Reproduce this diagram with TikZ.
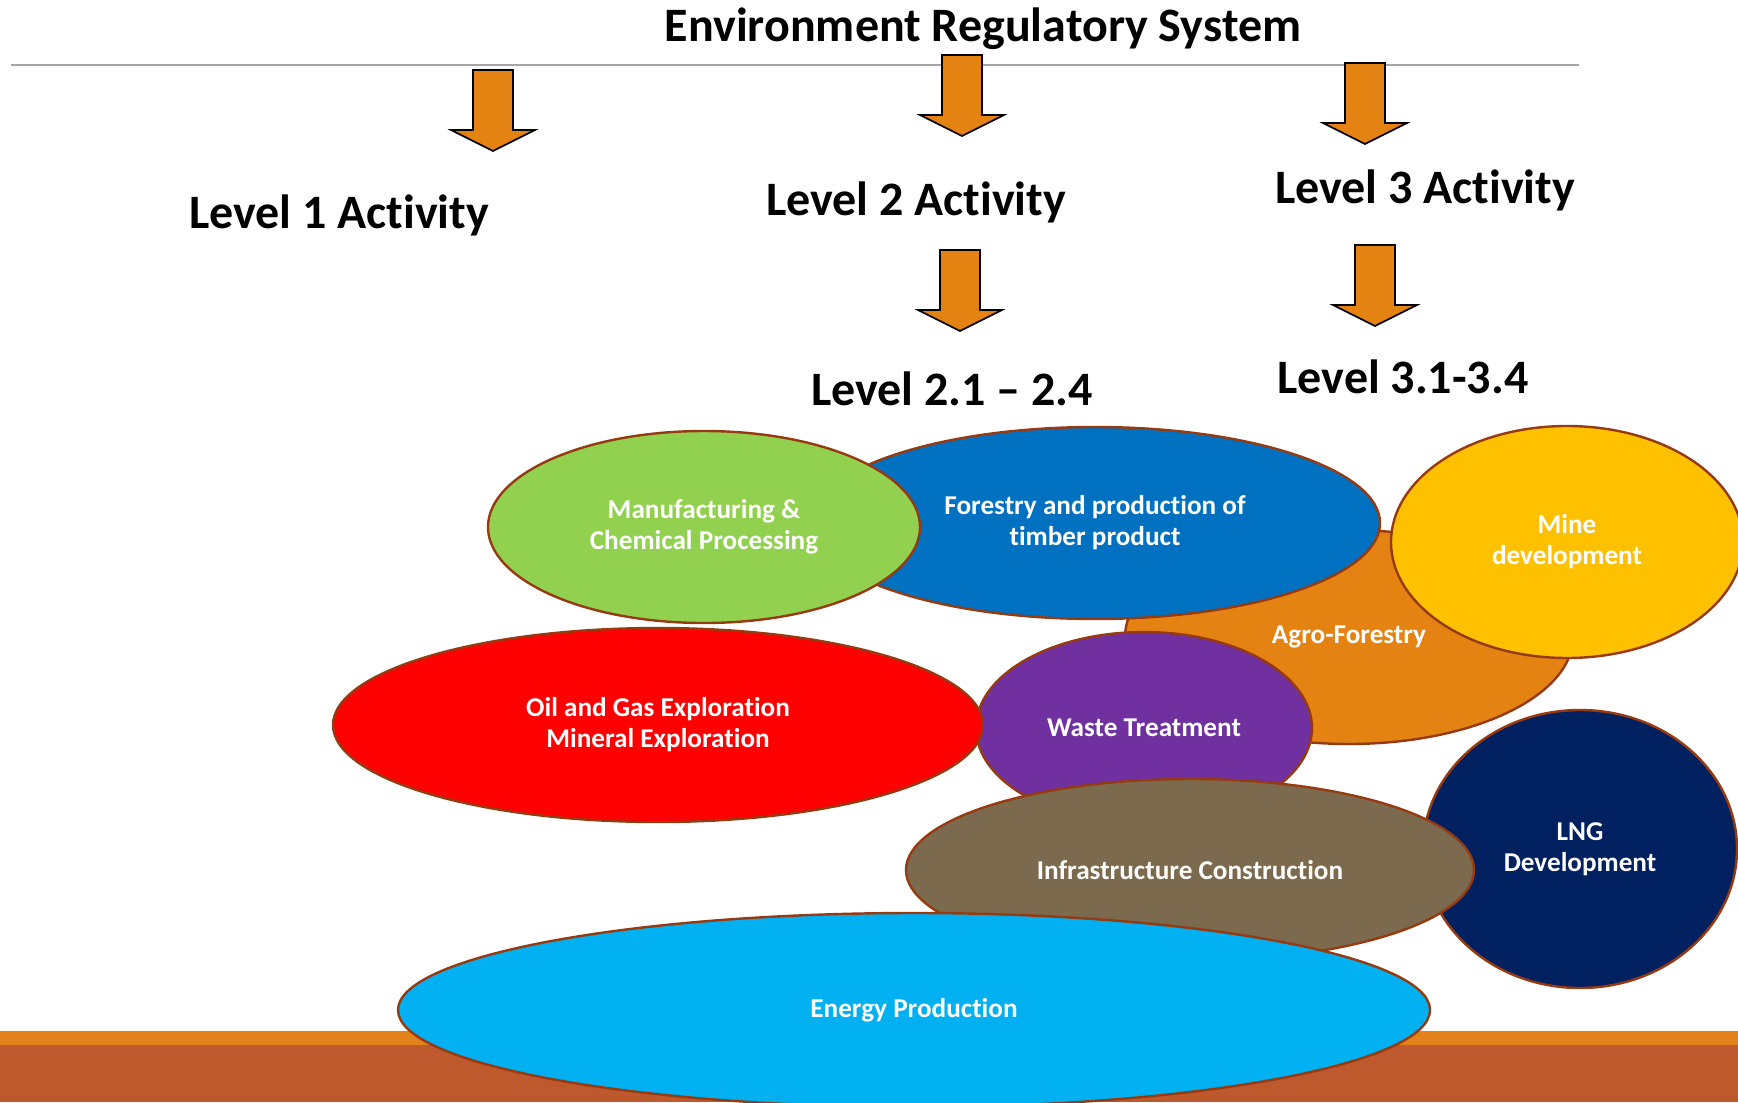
\documentclass[tikz,border=0pt]{standalone}
\usepackage{fontspec}
\setmainfont[Ligatures=NoCommon]{Carlito}
\usepackage{tikz}
\usetikzlibrary{shapes.geometric}
\definecolor{arrowFill}{HTML}{E48312}
\definecolor{blobEdge}{HTML}{963A12}
\definecolor{manufGreen}{HTML}{92D050}
\definecolor{forestBlue}{HTML}{0070C0}
\definecolor{agroOrange}{HTML}{E48312}
\definecolor{mineYellow}{HTML}{FFC000}
\definecolor{oilRed}{HTML}{FF0000}
\definecolor{wastePurple}{HTML}{7030A0}
\definecolor{infraBrown}{HTML}{7B6A4D}
\definecolor{lngNavy}{HTML}{002060}
\definecolor{energyCyan}{HTML}{00B0F0}
\definecolor{groundTop}{HTML}{E3821A}
\definecolor{groundSoil}{HTML}{BE592D}
\definecolor{ruleGray}{HTML}{A6A6A6}

\begin{document}
\begin{tikzpicture}[
  x=0.5pt,
  y=-0.5pt,
  heading/.style={
    font=\fontsize{24}{28}\selectfont\bfseries,
    anchor=base,
    inner sep=0pt,
  },
  blob/.style={
    ellipse,
    draw=blobEdge,
    line width=1.2pt,
    inner sep=0pt,
    text=white,
    align=center,
    font=\fontsize{13.6}{15.5}\selectfont\bfseries,
  },
  arrowbody/.style={
    draw=black,
    line width=0.8pt,
    fill=arrowFill,
  },
  blockarrow/.pic={
    \draw[arrowbody] (-20,0) -- (20,0) -- (20,60) -- (42,60) -- (0,81)
      -- (-42,60) -- (-20,60) -- cycle;
  }
]
\useasboundingbox (0,0) rectangle (1738,1102);
% ground
\fill[groundTop] (0,1031) rectangle (1738,1045);
\fill[groundSoil] (0,1045) rectangle (1738,1102);
% headings
\draw[ruleGray, line width=1pt] (11,65) -- (1579,65);
\node[heading] (system) at (983,42) {Environment Regulatory System};
\node[heading] (lvlA) at (339,228) {Level 1 Activity};
\node[heading] (lvlB) at (916,215) {Level 2 Activity};
\node[heading] (lvlC) at (1425,203) {Level 3 Activity};
\node[heading] (lvlBsub) at (952,405) {Level 2.1 -- 2.4};
\node[heading] (lvlCsub) at (1403,393) {Level 3.1-3.4};
% arrows
\foreach \ax/\ay in {493/70, 962/55, 1365/63, 960/250, 1375/245}
  \pic at (\ax,\ay) {blockarrow};
% activity ellipses, back to front
\node[blob, fill=agroOrange, minimum width=224pt, minimum height=107pt] (agro) at (1349,637) {Agro-Forestry};
\node[blob, fill=forestBlue, minimum width=285pt, minimum height=96pt] (forest) at (1095,523) {Forestry and production of\\timber product};
\node[blob, fill=manufGreen, minimum width=216pt, minimum height=96pt] (manuf) at (704,527) {Manufacturing \&\\Chemical Processing};
\node[blob, fill=mineYellow, minimum width=176pt, minimum height=116pt] (mine) at (1567,542) {Mine\\development};
\node[blob, fill=wastePurple, minimum width=168pt, minimum height=96pt] (waste) at (1144,728) {Waste Treatment};
\node[blob, fill=oilRed, minimum width=325pt, minimum height=97pt] (oil) at (658,725) {Oil and Gas Exploration\\Mineral Exploration};
\node[blob, fill=lngNavy, minimum width=157pt, minimum height=139pt] (lng) at (1580,849) {LNG\\Development};
\node[blob, fill=infraBrown, minimum width=284pt, minimum height=91pt] (infra) at (1190,870) {Infrastructure Construction};
\node[blob, fill=energyCyan, minimum width=516pt, minimum height=97pt] (energy) at (914,1010) {Energy Production};
\end{tikzpicture}
\end{document}
